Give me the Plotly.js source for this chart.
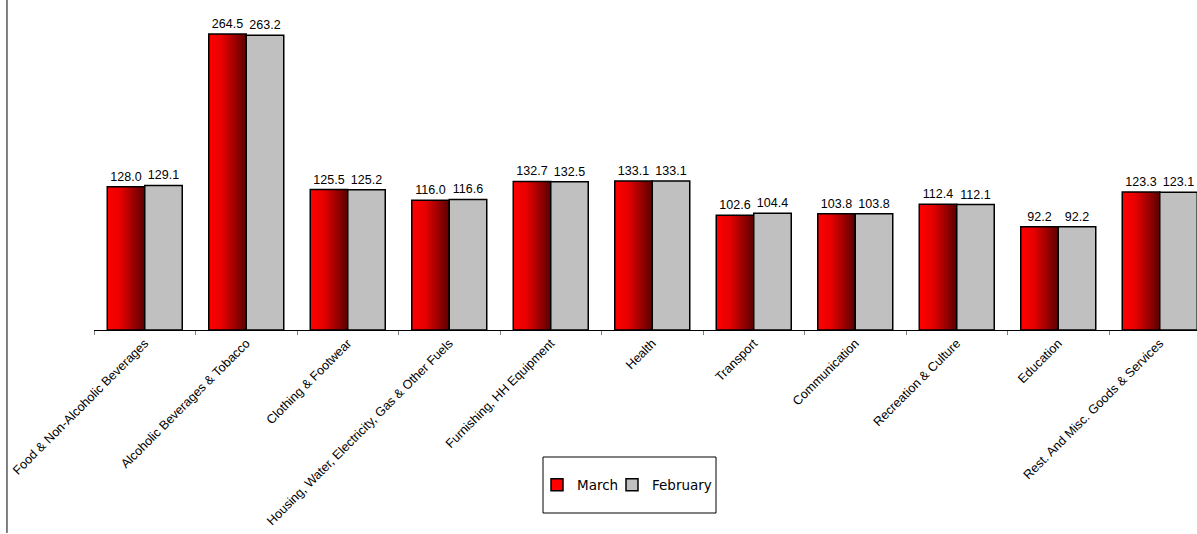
<!DOCTYPE html>
<html>
<head>
<meta charset="utf-8">
<script src="https://cdn.plot.ly/plotly-3.0.1.min.js"></script>
<style>
html,body{margin:0;padding:0;background:#fff;overflow:hidden;}
#chart{width:1197px;height:534px;}
</style>
</head>
<body>
<div id="chart"></div>
<script>
var categories = [
  "Food & Non-Alcoholic Beverages",
  "Alcoholic Beverages & Tobacco",
  "Clothing & Footwear",
  "Housing, Water, Electricity, Gas & Other Fuels",
  "Furnishing, HH Equipment",
  "Health",
  "Transport",
  "Communication",
  "Recreation & Culture",
  "Education",
  "Rest. And Misc. Goods & Services"
];
var march = [128.0, 264.5, 125.5, 116.0, 132.7, 133.1, 102.6, 103.8, 112.4, 92.2, 123.3];
var february = [129.1, 263.2, 125.2, 116.6, 132.5, 133.1, 104.4, 103.8, 112.1, 92.2, 123.1];

var valueFont = {family: "Liberation Sans, Arial, sans-serif", size: 12.5, color: "#000"};
var tickFont = {family: "Liberation Sans, Arial, sans-serif", size: 12.6, color: "#000"};
var legendFont = {family: "DejaVu Sans, Verdana, sans-serif", size: 13.5, color: "#000"};

var traces = [
  {
    type: "bar", name: "March", x: categories, y: march, legend: "legend",
    marker: {color: "#ff0000", line: {color: "#000", width: 1.5}},
    text: march.map(function(v){return v.toFixed(1);}),
    textposition: "outside", textfont: valueFont, cliponaxis: false,
    hoverinfo: "x+y"
  },
  {
    type: "bar", name: "February", x: categories, y: february, legend: "legend2",
    marker: {color: "#c0c0c0", line: {color: "#000", width: 1.5}},
    text: february.map(function(v){return v.toFixed(1);}),
    textposition: "outside", textfont: valueFont, cliponaxis: false,
    hoverinfo: "x+y"
  }
];

var legendY = (330 - 485) / 330;
var layout = {
  width: 1197, height: 534,
  margin: {l: 94, r: 0, t: 0, b: 204},
  paper_bgcolor: "#fff", plot_bgcolor: "#fff",
  barmode: "group", bargap: 0.261, bargroupgap: 0,
  showlegend: true,
  legend: {
    orientation: "h", x: (537-94)/1103, xanchor: "left", y: legendY, yanchor: "middle",
    font: legendFont, bgcolor: "rgba(0,0,0,0)", borderwidth: 0, itemwidth: 30
  },
  legend2: {
    orientation: "h", x: (612-94)/1103, xanchor: "left", y: legendY, yanchor: "middle",
    font: legendFont, bgcolor: "rgba(0,0,0,0)", borderwidth: 0, itemwidth: 30
  },
  xaxis: {
    type: "category", range: [-0.5, 10.367],
    showline: true, linecolor: "#000", linewidth: 1,
    ticks: "outside", tickson: "boundaries", ticklen: 4, tickcolor: "#808080",
    tickangle: -45, tickfont: tickFont, showgrid: false, zeroline: false,
    automargin: false
  },
  yaxis: {
    range: [0, 294.8], visible: false, showgrid: false, zeroline: false
  },
  shapes: [
    {type: "line", xref: "paper", yref: "paper", x0: -0.0789, x1: -0.0789, y0: 1, y1: -0.615,
     line: {color: "#000", width: 1}},
    {type: "rect", xref: "paper", yref: "paper", x0: (543-94)/1103, x1: (716-94)/1103,
     y0: (330-457)/330, y1: (330-513)/330, line: {color: "#000", width: 1}, fillcolor: "rgba(0,0,0,0)"}
  ]
};

Plotly.newPlot("chart", traces, layout, {displayModeBar: false, staticPlot: true}).then(function(gd){
  var svg = gd.querySelector(".main-svg");
  var defs = svg.querySelector("defs");
  var ns = "http://www.w3.org/2000/svg";
  var grad = document.createElementNS(ns, "linearGradient");
  grad.setAttribute("id", "redGrad");
  grad.setAttribute("x1", "0"); grad.setAttribute("y1", "0");
  grad.setAttribute("x2", "1"); grad.setAttribute("y2", "0");
  var stops = [["0", "#ff0000"], ["0.35", "#e80000"], ["1", "#5a0000"]];
  stops.forEach(function(s){
    var st = document.createElementNS(ns, "stop");
    st.setAttribute("offset", s[0]); st.setAttribute("stop-color", s[1]);
    grad.appendChild(st);
  });
  defs.appendChild(grad);
  var traceGroups = gd.querySelectorAll(".barlayer .trace");
  if (traceGroups.length) {
    traceGroups[0].querySelectorAll(".point path").forEach(function(p){
      p.style.fill = "url(#redGrad)";
    });
  }
});
</script>
</body>
</html>
